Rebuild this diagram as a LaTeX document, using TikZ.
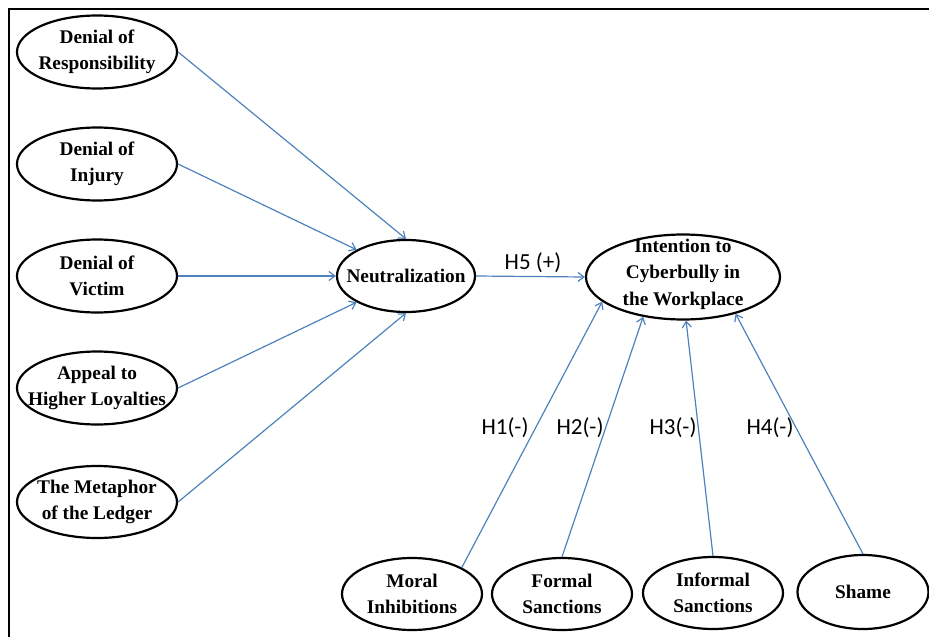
\documentclass[tikz,border=0pt]{standalone}
\usepackage{fontspec}
\setmainfont{Liberation Serif}
\newfontfamily\hypfont{Carlito}
\usetikzlibrary{shapes.geometric,arrows.meta}
\definecolor{arrblue}{HTML}{4F81BD}
\begin{document}
\begin{tikzpicture}[x=1pt,y=-1pt,
  ell/.style={draw, ellipse, line width=2.2pt, inner sep=0pt},
  lbl/.style={align=center, font=\bfseries\fontsize{19.3}{26.5}\selectfont, inner sep=0pt},
  hyp/.style={font=\hypfont\fontsize{23}{27}\selectfont, inner sep=0pt},
  link/.style={draw=arrblue, line width=1.2pt, -{Straight Barb[length=6pt,width=9pt]}}]
\useasboundingbox (0,0) rectangle (929,637);
\draw[line width=2pt] (9,637) -- (9,9) -- (929,9);

% left column
\node[ell, minimum width=160pt, minimum height=73pt] (resp) at (97,52) {};
\node[lbl] (respt) at (resp) {Denial of\\Responsibility};
\node[ell, minimum width=160pt, minimum height=73pt] (inj) at (97,164) {};
\node[lbl] (injt) at (inj) {Denial of\\Injury};
\node[ell, minimum width=160pt, minimum height=73pt] (vic) at (97,276) {};
\node[lbl] (vict) at (vic) {Denial of\\Victim};
\node[ell, minimum width=160pt, minimum height=73pt] (app) at (97,388) {};
\node[lbl] (appt) at (app) {Appeal to\\Higher Loyalties};
\node[ell, minimum width=160pt, minimum height=72pt] (met) at (97,502) {};
\node[lbl] (mett) at (met) {The Metaphor\\of the Ledger};

% neutralization
\node[ell, minimum width=138pt, minimum height=72pt] (neut) at (406,276) {};
\node[lbl] (neutt) at (neut) {Neutralization};

% intention
\node[ell, minimum width=194pt, minimum height=85pt] (int) at (683,277) {};
\node[lbl] (intt) at (683,274) {Intention to\\Cyberbully in\\the Workplace};

% bottom row
\node[ell, minimum width=140pt, minimum height=72pt] (mor) at (412,594) {};
\node[lbl] (mort) at (mor) {Moral\\Inhibitions};
\node[ell, minimum width=140pt, minimum height=72pt] (form) at (562,594) {};
\node[lbl] (formt) at (form) {Formal\\Sanctions};
\node[ell, minimum width=140pt, minimum height=72pt] (inf) at (713,593) {};
\node[lbl] (inft) at (inf) {Informal\\Sanctions};
\node[ell, minimum width=131pt, minimum height=74pt] (sha) at (863,592) {};
\node[lbl] (shat) at (sha) {Shame};

% connectors
\draw[link] (resp.east) -- (neut.north);
\draw[link] (inj.east) -- (neut.152);
\draw[link] (vic.east) -- (neut.west);
\draw[link] (app.east) -- (neut.208);
\draw[link] (met.east) -- (neut.south);

\draw[link] (neut.east) -- (int.west);
\node[hyp] (h5) at (533,263) {H5 (+)};

\draw[link] (mor.28) -- (int.197);
\draw[link] (form.north) -- (int.225);
\draw[link] (inf.north) -- (int.274);
\draw[link] (sha.north) -- (int.325);

\node[hyp] (h1) at (505,428) {H1(-)};
\node[hyp] (h2) at (580,428) {H2(-)};
\node[hyp] (h3) at (673,428) {H3(-)};
\node[hyp] (h4) at (770,428) {H4(-)};
\end{tikzpicture}
\end{document}
